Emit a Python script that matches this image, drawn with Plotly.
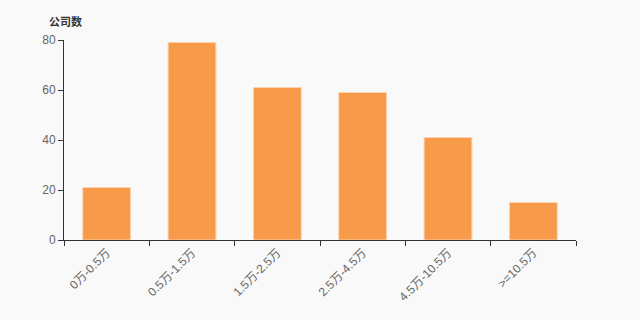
import plotly.graph_objects as go

categories = ["0万-0.5万", "0.5万-1.5万", "1.5万-2.5万", "2.5万-4.5万", "4.5万-10.5万", ">=10.5万"]
values = [21, 79, 61, 59, 41, 15]
y_ticks = [0, 20, 40, 60, 80]
y_title = "公司数"

FONT = "Liberation Sans, Arial, Noto Sans CJK SC, sans-serif"

fig = go.Figure(
    go.Bar(
        x=categories,
        y=values,
        marker=dict(color="#f79a49", line=dict(color="#fcd3b0", width=1)),
        width=0.56,
        hoverinfo="x+y",
    )
)

fig.update_layout(
    width=640,
    height=320,
    margin=dict(l=64, r=64, t=40, b=80),
    paper_bgcolor="#f9f9f9",
    plot_bgcolor="#f9f9f9",
    showlegend=False,
    font=dict(family=FONT, size=12, color="#666666"),
    annotations=[
        dict(
            text="<b>" + y_title + "</b>",
            xref="paper", yref="paper",
            x=0, y=1, xanchor="center", yanchor="bottom",
            yshift=10, xshift=1,
            showarrow=False,
            font=dict(family=FONT, size=11, color="#333333"),
        )
    ],
)

fig.update_xaxes(
    type="category",
    tickson="boundaries",
    ticks="outside",
    ticklen=5,
    tickcolor="#333333",
    showline=True,
    linecolor="#333333",
    linewidth=1,
    showgrid=False,
    tickangle=-45,
    tickfont=dict(family=FONT, size=12, color="#666666"),
    range=[-0.5, 5.5],
)

fig.update_yaxes(
    range=[0, 80],
    tickvals=y_ticks,
    ticks="outside",
    ticklen=5,
    tickcolor="#333333",
    showline=True,
    linecolor="#333333",
    linewidth=1,
    showgrid=False,
    zeroline=False,
    tickfont=dict(family=FONT, size=12, color="#666666"),
)

fig.write_html("out.html")
